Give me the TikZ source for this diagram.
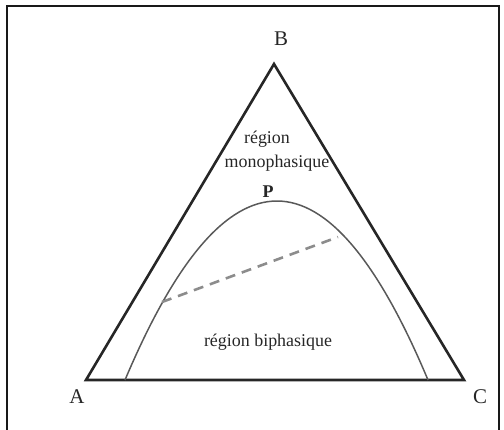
\documentclass[tikz,border=0pt]{standalone}
\usepackage{fontspec}
\setmainfont{Liberation Serif}
\begin{document}
\begin{tikzpicture}[x=1bp,y=-1bp,
  tri/.style={line width=2.6bp,draw=black!85,line join=miter},
  binodal/.style={line width=1.5bp,draw=black!65},
  tieline/.style={line width=2.6bp,draw=black!45,dash pattern=on 10bp off 7bp},
  vlabel/.style={font=\fontsize{21}{23}\selectfont,text=black!85,inner sep=0pt},
  rlabel/.style={font=\fontsize{18}{21}\selectfont,text=black!85,inner sep=0pt,align=center},
  frame/.style={line width=1.3bp,draw=black!90}]
\useasboundingbox (0,0) rectangle (504,429);
\draw[frame] (7,440) -- (7,6) -- (499,6) -- (499,440);
\coordinate (A) at (86,380);
\coordinate (B) at (274,64);
\coordinate (C) at (464,380);
\draw[tri] (A) -- (B) -- (C) -- cycle;
\coordinate (L) at (125,380);
\coordinate (P) at (277,201);
\coordinate (R) at (428,380);
\draw[binodal] (L) .. controls (175.7,260) and (226.3,201) .. (P)
  .. controls (327.3,201) and (377.7,260) .. (R);
\coordinate (T1) at (162,302);
\coordinate (T2) at (338,237);
\draw[tieline] (T1) -- (T2);
\node[vlabel] (lA) at (77,397) {A};
\node[vlabel] (lB) at (281,39) {B};
\node[vlabel] (lC) at (480,397) {C};
\node[rlabel,font=\fontsize{18}{21}\selectfont\bfseries] (lP) at (268,192) {P};
\node[rlabel] (mono1) at (267,139) {région};
\node[rlabel] (mono2) at (277,163) {monophasique};
\node[rlabel] (bi) at (268,342) {région biphasique};
\end{tikzpicture}
\end{document}
